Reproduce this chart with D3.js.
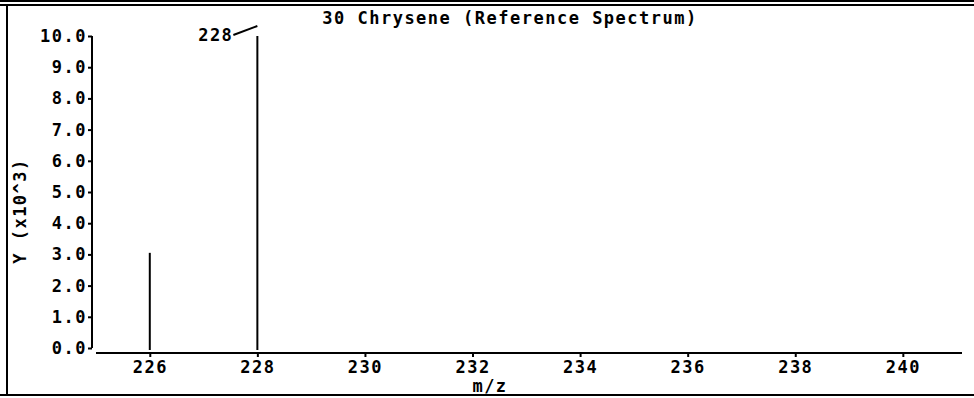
<!DOCTYPE html>
<html>
<head>
<meta charset="utf-8">
<script src="https://cdn.jsdelivr.net/npm/d3@7"></script>
<style>
  body { margin: 0; background: #fff; }
  text { font-family: "DejaVu Sans Mono", monospace; font-size: 17px; font-weight: bold; letter-spacing: 1.5px; fill: #000; }
</style>
</head>
<body>
<div id="chart"></div>
<script>
// spectrum data
const title = "30 Chrysene (Reference Spectrum)";
const mz = [226, 228];
const intensity = [3.05, 10.0]; // x10^3
const peakLabels = ["", "228"];
const yTicks = [0, 1, 2, 3, 4, 5, 6, 7, 8, 9, 10];
const xTicks = [226, 228, 230, 232, 234, 236, 238, 240];

const W = 974, H = 398;
const svg = d3.select("#chart").append("svg")
  .attr("width", W).attr("height", H);

// frame: double rule on top, left edge, bottom rule
svg.append("path")
  .attr("d", "M0,1H" + W + "M0,5H" + W + "M7,5V395M0,395H" + W)
  .attr("stroke", "#000").attr("stroke-width", 2).attr("fill", "none");

const x = d3.scaleLinear().domain([225, 241.1]).range([96, 962]);
const y = d3.scaleLinear().domain([0, 10]).range([348, 36]);

// y axis
const gy = svg.append("g").attr("transform", "translate(92,0)")
  .call(d3.axisLeft(y).tickValues(yTicks).tickFormat(d3.format(".1f")).tickSize(4).tickPadding(1));
gy.select(".domain").attr("d", "M0," + y(10) + "V" + y(0)).attr("stroke-width", 2);
gy.selectAll(".tick line").attr("stroke-width", 2);
gy.selectAll("text").style("font-size", "17px").style("font-family", "DejaVu Sans Mono");

// x axis
const gx = svg.append("g").attr("transform", "translate(0," + (y(0) + 5) + ")")
  .call(d3.axisBottom(x).tickValues(xTicks).tickSize(4).tickPadding(4));
gx.select(".domain").attr("d", "M" + x(225) + ",0H" + x(241.1)).attr("stroke-width", 2);
gx.selectAll(".tick line").attr("stroke-width", 2);
gx.selectAll("text").style("font-size", "17px").style("font-family", "DejaVu Sans Mono");

// peaks
svg.selectAll("line.peak").data(mz).join("line")
  .attr("class", "peak")
  .attr("x1", d => x(d)).attr("x2", d => x(d))
  .attr("y1", y(0) + 2).attr("y2", (d, i) => y(intensity[i]))
  .attr("stroke", "#000").attr("stroke-width", 2);

// peak label with leader
mz.forEach((d, i) => {
  if (!peakLabels[i]) return;
  const px = x(d), py = y(intensity[i]);
  svg.append("path")
    .attr("d", "M" + (px - 24) + "," + (py - 1) + "L" + px + "," + (py - 10))
    .attr("stroke", "#000").attr("stroke-width", 2).attr("fill", "none");
  svg.append("text").attr("x", px - 24).attr("y", py + 5)
    .attr("text-anchor", "end").text(peakLabels[i]);
});

// title and axis labels
svg.append("text").attr("x", 510).attr("y", 24).attr("text-anchor", "middle").text(title);
svg.append("text").attr("x", 490).attr("y", 392).attr("text-anchor", "middle").text("m/z");
svg.append("text").attr("transform", "translate(26,211) rotate(-90)")
  .attr("text-anchor", "middle").text("Y (x10^3)");
</script>
</body>
</html>
